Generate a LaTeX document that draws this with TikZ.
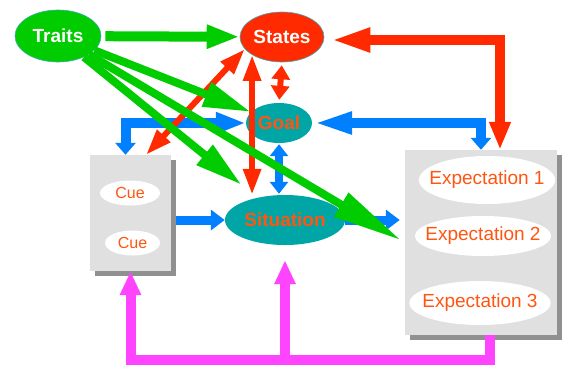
\documentclass[tikz,border=0pt]{standalone}
\usepackage{fontspec}
\setmainfont{Liberation Sans}
\usepackage{tikz}
\usetikzlibrary{arrows.meta,calc,positioning,shapes.geometric,shadows}
\definecolor{traitgreen}{HTML}{00CC00}
\definecolor{statered}{HTML}{FF2A00}
\definecolor{goalteal}{HTML}{00A6A6}
\definecolor{linkblue}{HTML}{0080FF}
\definecolor{loopmag}{HTML}{FF44FF}
\definecolor{cuegray}{HTML}{E0E0E0}
\definecolor{shadegray}{HTML}{909090}
\definecolor{txtorange}{HTML}{FF5511}
\definecolor{rimteal}{HTML}{3FA9B5}

\begin{document}
\begin{tikzpicture}[x=1pt,y=-1pt,
  blob/.style={ellipse,inner sep=0pt,font=\fontsize{19}{22}\selectfont\bfseries},
  panel/.style={fill=cuegray,inner sep=0pt,drop shadow={shadow xshift=5pt,shadow yshift=-5pt,opacity=1,fill=shadegray}},
  slot/.style={ellipse,fill=white,inner ysep=0pt,text=txtorange},
  grnflat/.style={draw=traitgreen,line width=10pt,-{Triangle[length=33pt,width=22pt]}},
  grnspike/.style={draw=traitgreen,line width=8pt,-{Triangle[length=48pt,width=24pt]}},
  reddbl/.style={draw=statered,line width=6pt,{Triangle[length=26pt,width=17pt]}-{Triangle[length=26pt,width=17pt]}},
  redshort/.style={draw=statered,line width=6pt,{Triangle[length=14pt,width=18pt]}-{Triangle[length=14pt,width=18pt]}},
  redbig/.style={draw=statered,line width=10pt,{Triangle[length=28pt,width=20pt]}-{Triangle[length=40pt,width=22pt]}},
  bluelbow/.style={draw=linkblue,line width=10pt,{Triangle[length=#1,width=20pt]}-{Triangle[length=12pt,width=20pt]}},
  blushort/.style={draw=linkblue,line width=8pt,{Triangle[length=12pt,width=18pt]}-{Triangle[length=12pt,width=18pt]}},
  blusingle/.style={draw=linkblue,line width=9pt,-{Triangle[length=14pt,width=20pt]}},
  magline/.style={draw=loopmag,line width=10pt,-{Triangle[length=24pt,width=20pt]}}]
\useasboundingbox (0,0) rectangle (562,365);

\node[blob,fill=traitgreen,draw=rimteal,line width=0.6pt,text=white,minimum width=86pt,minimum height=52pt] (traits) at (58,36) {Traits};
\node[blob,fill=statered,draw=rimteal,line width=0.6pt,text=white,minimum width=84pt,minimum height=50pt] (states) at (282,37) {States};
\node[blob,fill=goalteal,text=txtorange,minimum width=66pt,minimum height=40pt] (goal) at (279,123) {Goal};
\node[blob,fill=goalteal,text=txtorange,minimum width=120pt,minimum height=50pt] (situation) at (285,220) {Situation};

\node[panel,minimum width=81pt,minimum height=116pt] (cuebox) at (130.5,213) {};
\node[slot,inner xsep=0pt,font=\fontsize{16}{19}\selectfont,minimum width=60pt,minimum height=25pt] (cue1) at (130,193) {Cue};
\node[slot,inner xsep=0pt,font=\fontsize{16}{19}\selectfont,minimum width=55pt,minimum height=25pt] (cue2) at (132.5,243) {Cue};

\node[panel,minimum width=152pt,minimum height=185pt] (expbox) at (481,242.5) {};
\node[slot,inner xsep=-9.4pt,font=\fontsize{19}{22}\selectfont,minimum height=48pt] (exp1) at (487,180) {Expectation 1};
\node[slot,inner xsep=-9.4pt,font=\fontsize{19}{22}\selectfont,minimum height=40pt] (exp2) at (483,236) {Expectation 2};
\node[slot,inner xsep=-7.6pt,font=\fontsize{19}{22}\selectfont,minimum height=44pt] (exp3) at (480,303) {Expectation 3};

\draw[bluelbow=30pt] (goal.west) -| ($(cuebox.north)+(-5,0)$);
\draw[bluelbow=40pt] (goal.east) -| (expbox.north);
\draw[blushort,shorten <=1pt,shorten >=1pt] (goal.south) -- (goal.south |- situation.north);
\draw[blusingle,shorten <=5pt] (cuebox.east |- situation.west) -- (situation.west);
\draw[blusingle,shorten >=5pt] (situation.east) -- (situation.east -| expbox.west);

\draw[magline] ($(expbox.south)+(9,0)$) -- ++(0,25) coordinate (busend) -| (cuebox.south);
\draw[magline,shorten >=15pt] (busend -| situation.south) -- (situation.south);

\draw[reddbl] (cuebox.75) -- (states.198);
\draw[reddbl] (states.south west) -- (states.south west |- situation.north);
\draw[redshort,shorten <=3pt,shorten >=3pt] (states.south) -- (goal.north);
\draw[redbig] ($(expbox.north)+(19,0)$) |- ($(states.east)+(6,3)$);

\draw[grnflat,shorten <=4pt] (traits) -- (states);
\draw[grnspike] (traits) -- (goal);
\draw[grnspike,shorten >=20pt] (traits) -- (situation);
\draw[grnspike,-{Triangle[length=70pt,width=26pt]},shorten >=4pt] (traits) -- (expbox.west);
\end{tikzpicture}
\end{document}
